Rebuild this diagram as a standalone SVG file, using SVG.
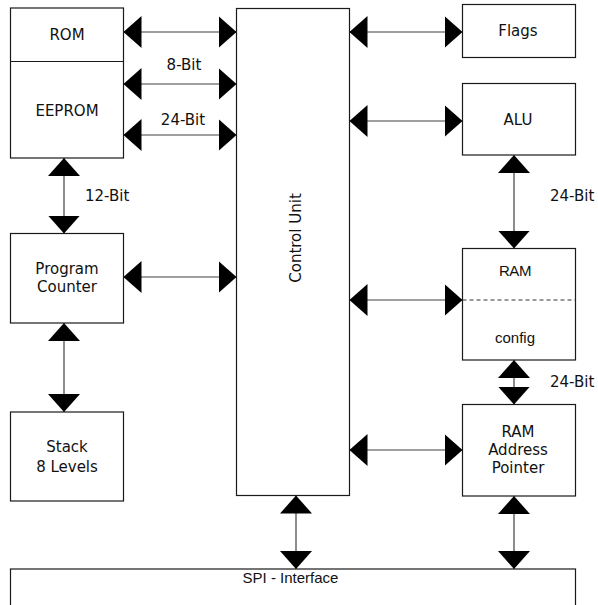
<svg xmlns="http://www.w3.org/2000/svg" width="598" height="605" viewBox="0 0 598 605">
  <defs>
    <marker id="head" viewBox="0 0 18 32" refX="18" refY="16" markerWidth="18" markerHeight="32" markerUnits="userSpaceOnUse" orient="auto-start-reverse">
      <path d="M0,0 L18,16 L0,32 Z" fill="#000"/>
    </marker>
    <style>
      .box { fill: #fff; stroke: #1a1a1a; stroke-width: 1.2; }
      .sep { stroke: #1a1a1a; stroke-width: 1.2; fill: none; }
      .dash { stroke: #333; stroke-width: 1; stroke-dasharray: 4 3; fill: none; }
      .bus { stroke: #404040; stroke-width: 1.2; fill: none; marker-start: url(#head); marker-end: url(#head); }
      .t { font-family: "DejaVu Sans", Verdana, sans-serif; font-size: 15px; fill: #111; text-anchor: middle; }
      .lbl { font-family: "DejaVu Sans", Verdana, sans-serif; font-size: 15px; fill: #111; }
      .a { font-family: "Liberation Sans", Arial, sans-serif; font-size: 15px; fill: #111; text-anchor: middle; }
    </style>
  </defs>

  <!-- buses between blocks -->
  <g id="connectors">
    <line class="bus" x1="123.5" y1="32" x2="236.5" y2="32"/>
    <line class="bus" x1="123.5" y1="84" x2="236.5" y2="84"/>
    <line class="bus" x1="123.5" y1="135" x2="236.5" y2="135"/>
    <line class="bus" x1="123.5" y1="277" x2="236.5" y2="277"/>
    <line class="bus" x1="64" y1="158" x2="64" y2="233.5"/>
    <line class="bus" x1="64" y1="323" x2="64" y2="412"/>
    <line class="bus" x1="349.5" y1="32" x2="462.5" y2="32"/>
    <line class="bus" x1="349.5" y1="121" x2="462.5" y2="121"/>
    <line class="bus" x1="349.5" y1="300" x2="462.5" y2="300"/>
    <line class="bus" x1="349.5" y1="450" x2="462.5" y2="450"/>
    <line class="bus" x1="514" y1="155" x2="514" y2="248.5"/>
    <line class="bus" x1="514" y1="360" x2="514" y2="404.5"/>
    <line class="bus" x1="296" y1="495.5" x2="296" y2="569"/>
    <line class="bus" x1="514" y1="496" x2="514" y2="569"/>
    <text class="lbl" x="184" y="70" text-anchor="middle">8-Bit</text>
    <text class="lbl" x="183" y="125" text-anchor="middle">24-Bit</text>
    <text class="lbl" x="85" y="201">12-Bit</text>
    <text class="lbl" x="550" y="201">24-Bit</text>
    <text class="lbl" x="550" y="387">24-Bit</text>
  </g>

  <g id="rom-eeprom">
    <rect class="box" x="10.5" y="8" width="113" height="150"/>
    <line class="sep" x1="10.5" y1="61.5" x2="123.5" y2="61.5"/>
    <text class="t" x="67" y="40">ROM</text>
    <text class="t" x="67" y="116">EEPROM</text>
  </g>

  <g id="program-counter">
    <rect class="box" x="10.5" y="233.5" width="113" height="89.5"/>
    <text class="t" x="67" y="274">Program</text>
    <text class="t" x="67" y="292">Counter</text>
  </g>

  <g id="stack">
    <rect class="box" x="10.5" y="412" width="113" height="89"/>
    <text class="t" x="67" y="452">Stack</text>
    <text class="t" x="67" y="472">8 Levels</text>
  </g>

  <g id="control-unit">
    <rect class="box" x="236.5" y="8.5" width="113" height="487"/>
    <text class="t" transform="translate(301 238) rotate(-90)">Control Unit</text>
  </g>

  <g id="flags">
    <rect class="box" x="462.5" y="4.5" width="113" height="53"/>
    <text class="t" x="518" y="36">Flags</text>
  </g>

  <g id="alu">
    <rect class="box" x="462.5" y="83.5" width="113" height="71.5"/>
    <text class="t" x="518" y="125">ALU</text>
  </g>

  <g id="ram">
    <rect class="box" x="462.5" y="248.5" width="113" height="111.5"/>
    <line class="dash" x1="462.5" y1="300" x2="575.5" y2="300"/>
    <text class="a" x="515" y="276" font-size="16" letter-spacing="-0.4">RAM</text>
    <text class="a" x="515" y="343">config</text>
  </g>

  <g id="ram-address-pointer">
    <rect class="box" x="462.5" y="404.5" width="113" height="91.5"/>
    <text class="t" x="518" y="437">RAM</text>
    <text class="t" x="518" y="455">Address</text>
    <text class="t" x="518" y="473">Pointer</text>
  </g>

  <g id="spi-interface">
    <rect class="box" x="10.5" y="569" width="565" height="60"/>
    <text class="a" x="290.5" y="583">SPI - Interface</text>
  </g>
</svg>
